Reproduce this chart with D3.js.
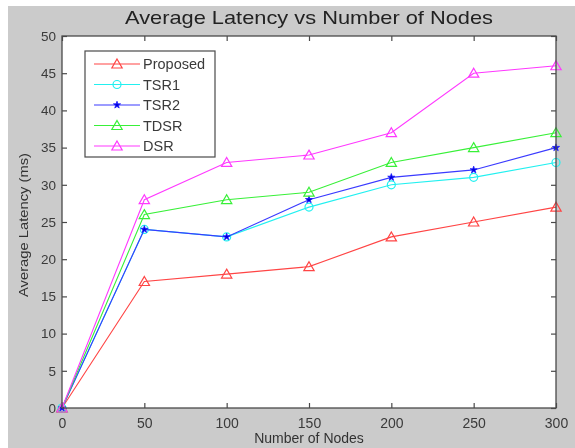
<!DOCTYPE html>
<html>
<head>
<meta charset="utf-8">
<script src="https://cdn.jsdelivr.net/npm/d3@7"></script>
<style>
  html, body { margin: 0; padding: 0; background: #fff; }
  svg { display: block; }
  text { font-family: "Liberation Sans", Arial, sans-serif; }
</style>
</head>
<body>
<svg id="chart" width="575" height="448"></svg>
<script>
// Number of nodes (x values)
const nodes = [0, 50, 100, 150, 200, 250, 300];

// Average latency (ms) per routing scheme
const proposed = [0, 17, 18, 19, 23, 25, 27];
const tsr1     = [0, 24, 23, 27, 30, 31, 33];
const tsr2     = [0, 24, 23, 28, 31, 32, 35];
const tdsr     = [0, 26, 28, 29, 33, 35, 37];
const dsr      = [0, 28, 33, 34, 37, 45, 46];

const seriesNames = ["Proposed", "TSR1", "TSR2", "TDSR", "DSR"];
const xTicks = [0, 50, 100, 150, 200, 250, 300];
const yTicks = [0, 5, 10, 15, 20, 25, 30, 35, 40, 45, 50];

const series = [
  { name: seriesNames[0], values: proposed, color: "#ff4444", marker: "triangle" },
  { name: seriesNames[1], values: tsr1,     color: "#22f0f0", marker: "circle" },
  { name: seriesNames[2], values: tsr2,     color: "#3a3aff", marker: "star" },
  { name: seriesNames[3], values: tdsr,     color: "#38f038", marker: "triangle" },
  { name: seriesNames[4], values: dsr,      color: "#ff38ff", marker: "triangle" }
];

const svg = d3.select("#chart");
const W = 575, H = 448;
const plot = { left: 62, top: 36, right: 556, bottom: 408 };

// figure background
svg.append("rect").attr("x", 8).attr("y", 6).attr("width", W - 8).attr("height", H - 6)
  .attr("fill", "#cbcbcb");

const x = d3.scaleLinear().domain([0, 300]).range([plot.left, plot.right]);
const y = d3.scaleLinear().domain([0, 50]).range([plot.bottom, plot.top]);

const soft = svg.append("defs").append("filter").attr("id", "soft");
soft.append("feGaussianBlur").attr("stdDeviation", 0.45);

const root = svg.append("g").attr("filter", "url(#soft)");

// axes area
root.append("rect")
  .attr("x", plot.left).attr("y", plot.top)
  .attr("width", plot.right - plot.left).attr("height", plot.bottom - plot.top)
  .attr("fill", "#fff");

const axisColor = "#4a4a4a";
const tickLen = 5;

// x axis ticks (bottom and top, pointing inward)
const xAxisB = d3.axisBottom(x).tickValues(xTicks).tickSizeInner(-tickLen).tickSizeOuter(0).tickPadding(10);
const gxb = root.append("g").attr("transform", `translate(0,${plot.bottom})`).call(xAxisB);
const xAxisT = d3.axisTop(x).tickValues(xTicks).tickSizeInner(-tickLen).tickSizeOuter(0).tickFormat("");
const gxt = root.append("g").attr("transform", `translate(0,${plot.top})`).call(xAxisT);

// y axis ticks (left and right, pointing inward)
const yAxisL = d3.axisLeft(y).tickValues(yTicks).tickSizeInner(-tickLen).tickSizeOuter(0).tickPadding(6);
const gyl = root.append("g").attr("transform", `translate(${plot.left},0)`).call(yAxisL);
const yAxisR = d3.axisRight(y).tickValues(yTicks).tickSizeInner(-tickLen).tickSizeOuter(0).tickFormat("");
const gyr = root.append("g").attr("transform", `translate(${plot.right},0)`).call(yAxisR);

[gxb, gxt, gyl, gyr].forEach(g => {
  g.select(".domain").remove();
  g.selectAll(".tick line").attr("stroke", axisColor).attr("stroke-width", 1.2);
  g.selectAll(".tick text")
    .attr("fill", "#3a3a3a")
    .style("font-family", "'Liberation Sans', Arial, sans-serif");
});
gxb.selectAll(".tick text").attr("dy", "0.71em").style("font-size", "14px");
gyl.selectAll(".tick text").style("font-size", "13.5px");

// data lines and markers
const line = d3.line().x((d, i) => x(nodes[i])).y(d => y(d));

const markerTri = d3.symbol().type(d3.symbolTriangle).size(46);
const markerStar = d3.symbol().type(d3.symbolStar).size(16);

function drawMarker(g, type, color, cx, cy) {
  if (type === "triangle") {
    g.append("path").attr("d", markerTri())
      .attr("transform", `translate(${cx},${cy + 1})`)
      .attr("fill", "none").attr("stroke", color).attr("stroke-width", 1.2);
  } else if (type === "circle") {
    g.append("circle").attr("cx", cx).attr("cy", cy).attr("r", 4)
      .attr("fill", "none").attr("stroke", color).attr("stroke-width", 1.2);
  } else {
    g.append("path").attr("d", markerStar())
      .attr("transform", `translate(${cx},${cy})`)
      .attr("fill", "#0000dd").attr("stroke", "#1a1aff").attr("stroke-width", 0.8);
  }
}

const dataG = root.append("g");
series.forEach(s => {
  dataG.append("path").datum(s.values)
    .attr("d", line)
    .attr("fill", "none")
    .attr("stroke", s.color)
    .attr("stroke-width", 1.1);
  s.values.forEach((v, i) => drawMarker(dataG, s.marker, s.color, x(nodes[i]), y(v)));
});

// box outline
root.append("rect")
  .attr("x", plot.left).attr("y", plot.top)
  .attr("width", plot.right - plot.left).attr("height", plot.bottom - plot.top)
  .attr("fill", "none").attr("stroke", axisColor).attr("stroke-width", 1.3);

// legend
const leg = { x: 85, y: 51, w: 130, h: 106, row0: 64, step: 20.5 };
const lg = root.append("g");
lg.append("rect").attr("x", leg.x).attr("y", leg.y).attr("width", leg.w).attr("height", leg.h)
  .attr("fill", "#fff").attr("stroke", axisColor).attr("stroke-width", 1.2);
series.forEach((s, i) => {
  const cy = leg.row0 + i * leg.step;
  lg.append("line").attr("x1", 94).attr("x2", 140).attr("y1", cy).attr("y2", cy)
    .attr("stroke", s.color).attr("stroke-width", 1.1);
  drawMarker(lg, s.marker, s.color, 117, cy);
  lg.append("text").attr("x", 143).attr("y", cy + 5)
    .attr("fill", "#3a3a3a").style("font-size", "14.5px").text(s.name);
});

// title and axis labels
root.append("text").attr("x", 125).attr("y", 24)
  .attr("textLength", 368).attr("lengthAdjust", "spacingAndGlyphs")
  .attr("fill", "#222")
  .style("font-size", "19px").text("Average Latency vs Number of Nodes");

root.append("text").attr("x", (plot.left + plot.right) / 2).attr("y", 443)
  .attr("text-anchor", "middle").attr("fill", "#333")
  .style("font-size", "14px").text("Number of Nodes");

root.append("text")
  .attr("transform", `translate(28,297) rotate(-90)`)
  .attr("textLength", 144).attr("lengthAdjust", "spacingAndGlyphs")
  .attr("fill", "#333")
  .style("font-size", "13px").text("Average Latency (ms)");
</script>
</body>
</html>
